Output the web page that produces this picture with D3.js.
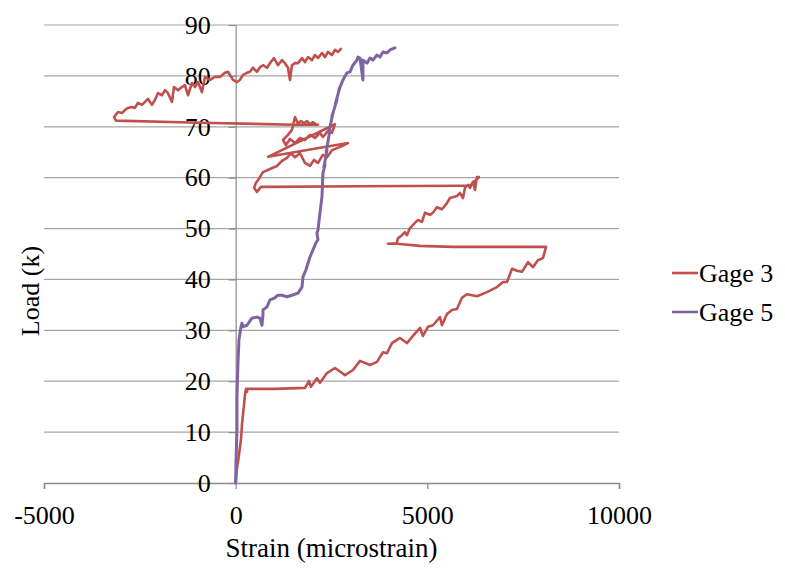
<!DOCTYPE html>
<html>
<head>
<meta charset="utf-8">
<script src="https://cdn.jsdelivr.net/npm/d3@7"></script>
<style>
  html, body { margin: 0; padding: 0; background: #ffffff; }
  svg { display: block; }
  text { font-family: "Liberation Serif", "Times New Roman", serif; fill: #000; }
</style>
</head>
<body>
<svg id="chart" width="785" height="572"></svg>
<script>
// ---------- data ----------
const seriesNames = ["Gage 3", "Gage 5"];
const xTicks = [-5000, 0, 5000, 10000];
const yTicks = [0, 10, 20, 30, 40, 50, 60, 70, 80, 90];

// Gage 3 : [strain (microstrain), load (k)]
const gage3 = [
  [0,0],[30,2.6],[86,5.5],[138,8.5],[164,11.4],[190,13.4],[217,15.3],[243,17.3],[269,18.5],[295,17.9],
  [300,18.5],[1025,18.5],[1808,18.7],[1912,20.0],[1964,18.9],[2121,20.6],[2199,19.7],[2382,21.6],
  [2590,22.6],[2851,21.2],[3060,22.2],[3243,24.0],[3503,23.2],[3686,23.8],[3843,25.7],[3947,25.5],
  [4077,27.5],[4286,28.5],[4469,27.5],[4625,28.9],[4808,30.5],[4886,28.9],[5017,30.7],[5147,31.0],
  [5330,32.6],[5382,31.0],[5512,33.2],[5643,34.0],[5773,34.2],[5904,36.4],[6034,37.1],[6295,36.7],
  [6556,37.5],[6817,38.5],[6974,39.5],[7078,39.5],[7209,42.1],[7339,41.7],[7469,41.5],[7626,43.4],
  [7757,42.4],[7887,43.8],[8017,44.2],[8096,46.4],
  [7417,46.4],[5669,46.4],[4808,46.6],[4208,47.0],[3973,47.0],[4200,47.1],
  [4234,48.1],[4338,48.7],[4416,49.3],[4469,48.7],[4547,50.1],[4678,51.1],[4756,51.7],[4860,51.3],
  [4938,53.1],[5069,52.7],[5147,53.1],[5251,54.2],[5382,53.8],[5512,55.0],[5591,56.0],[5773,56.4],
  [5851,57.0],[5930,56.0],[5982,58.0],[6060,58.6],[6112,58.0],[6190,59.2],[6243,57.6],[6295,60.1],
  [6347,60.1],[6112,58.4],[5904,58.4],
  [3243,58.3],[843,58.2],[660,58.2],[556,57.2],[480,58.0],[530,59.0],
  [582,59.5],[712,61.1],[895,61.7],[1077,62.3],[1208,63.3],[1338,63.9],[1443,64.8],
  [1547,64.0],[1677,64.8],[1808,62.9],[1938,62.3],[2043,63.5],[2147,62.9],[2277,64.5],[2382,64.0],
  [2512,65.4],[2643,65.8],[2773,66.2],[2930,66.8],
  [843,64.1],[2590,70.5],
  [2512,68.8],[2408,69.2],[2277,68.0],[2199,68.8],[2069,67.8],[1938,68.4],[1808,67.4],[1677,67.8],
  [1547,66.8],[1417,67.6],[1312,66.4],[1234,67.4],[1364,68.4],[1469,69.4],[1547,71.9],[1625,70.7],
  [1703,71.1],[1782,70.7],[1860,71.1],[1938,70.5],[2017,70.9],[2095,70.5],[2147,70.4],
  [1547,70.4],[-931,70.8],[-3122,71.2],[-3174,71.9],
  [-3070,72.9],[-2966,72.7],[-2888,73.3],[-2810,73.7],[-2705,73.9],[-2627,73.7],[-2549,74.7],
  [-2444,74.3],[-2366,74.9],[-2288,75.5],[-2184,74.3],[-2105,75.3],[-2027,76.6],[-1923,76.2],
  [-1844,77.2],[-1766,76.6],[-1662,74.9],[-1610,77.8],[-1505,77.2],[-1401,77.8],[-1323,78.2],
  [-1244,76.2],[-1140,78.6],[-1062,77.8],[-983,78.8],[-879,76.8],[-801,79.8],[-671,79.2],
  [-540,79.8],[-410,79.8],[-280,80.6],[-201,80.8],[-149,80.2],[-70,79.2],[34,78.8],[112,79.2],
  [190,80.2],[295,80.6],[373,80.8],[451,81.6],[556,80.8],[634,81.7],[712,82.1],[817,81.6],
  [895,82.5],[999,83.5],[1103,82.1],[1208,83.1],[1286,82.5],[1364,81.6],[1417,79.2],[1469,82.1],
  [1547,82.5],[1625,82.5],[1729,83.5],[1808,82.7],[1886,83.7],[1990,83.1],[2069,84.1],[2147,83.5],
  [2251,84.5],[2330,83.7],[2408,84.7],[2512,84.1],[2590,85.1],[2669,84.7],[2747,85.3]
];

// Gage 5 : [strain (microstrain), load (k)]
const gage5 = [
  [0,0],[8,3.9],[34,10.4],[34,16.9],[60,23.6],[86,28.1],[138,30.7],[164,31.4],[190,30.7],[295,31.0],
  [425,32.4],[556,32.6],[634,32.4],[686,31.0],[712,33.0],[712,34.0],[817,34.6],[895,36.0],
  [1025,36.4],[1103,36.9],[1208,36.9],[1338,36.6],[1469,36.9],[1625,37.3],[1730,38.5],[1756,40.5],
  [1834,41.9],[1886,43.2],[1938,44.4],[2017,45.8],[2095,47.2],[2147,47.8],[2121,49.1],[2147,49.7],
  [2199,53.1],[2251,56.2],[2277,60.9],[2330,62.5],[2300,62.0],[2382,65.4],[2360,65.0],[2460,69.4],
  [2430,68.8],[2538,72.7],[2510,72.0],[2643,75.3],[2600,74.5],[2721,77.8],[2690,77.2],[2799,79.2],
  [2903,80.6],[2982,80.8],[3060,82.1],[3164,83.1],[3190,83.7],[3243,83.5],[3321,79.2],[3321,83.1],
  [3425,82.5],[3503,83.5],[3582,83.1],[3686,84.1],[3764,83.7],[3843,84.7],[3947,84.5],[4025,85.1],
  [4155,85.5]
];

const seriesData = [gage3, gage5];
const seriesColors = ["#C0504D", "#8064A2"];

// ---------- chart ----------
const svg = d3.select("#chart");
const x = d3.scaleLinear().domain([-5000, 10000]).range([44, 619]);
const y = d3.scaleLinear().domain([0, 90]).range([483, 25]);

// gridlines
svg.append("g")
  .selectAll("line")
  .data(yTicks.filter(d => d !== 0))
  .join("line")
  .attr("x1", x(-5000)).attr("x2", x(10000))
  .attr("y1", d => y(d)).attr("y2", d => y(d))
  .attr("stroke", "#a6a6a6").attr("stroke-width", 1.2);

// x axis
const xAxis = svg.append("g")
  .attr("transform", `translate(0,${y(0)})`)
  .call(d3.axisBottom(x).tickValues(xTicks).tickSize(6).tickPadding(17).tickFormat(d => String(d)));
xAxis.select(".domain").attr("stroke", "#8a8a8a").attr("stroke-width", 1.5);
xAxis.selectAll(".tick line").attr("stroke", "#8a8a8a").attr("stroke-width", 1.2);
xAxis.selectAll("text").attr("font-size", 26).attr("font-family", "Liberation Serif").attr("fill", "#000");

// y axis
const yAxis = svg.append("g")
  .attr("transform", `translate(${x(0)},0)`)
  .call(d3.axisLeft(y).tickValues(yTicks).tickSize(7).tickPadding(18).tickSizeOuter(0));
yAxis.select(".domain").attr("stroke", "#8a8a8a").attr("stroke-width", 1.2);
yAxis.selectAll(".tick line").attr("stroke", "#8a8a8a").attr("stroke-width", 1.2);
yAxis.selectAll("text").attr("font-size", 26).attr("font-family", "Liberation Serif").attr("fill", "#000");

// series
const line = d3.line().x(d => x(d[0])).y(d => y(d[1]));
seriesData.forEach((data, i) => {
  svg.append("path")
    .datum(data)
    .attr("fill", "none")
    .attr("stroke", seriesColors[i])
    .attr("stroke-width", i === 1 ? 3 : 2.6)
    .attr("stroke-linejoin", "round")
    .attr("stroke-linecap", "round")
    .attr("d", line);
});

// axis titles
svg.append("text")
  .attr("x", (x(-5000) + x(10000)) / 2).attr("y", 557)
  .attr("text-anchor", "middle").attr("font-size", 27)
  .text("Strain (microstrain)");
svg.append("text")
  .attr("transform", `translate(39,291) rotate(-90)`)
  .attr("text-anchor", "middle").attr("font-size", 26)
  .text("Load (k)");

// legend
const legend = svg.append("g");
seriesNames.forEach((name, i) => {
  const ly = 273 + i * 39;
  legend.append("line")
    .attr("x1", 672).attr("x2", 698).attr("y1", ly).attr("y2", ly)
    .attr("stroke", seriesColors[i]).attr("stroke-width", 2.6);
  legend.append("text")
    .attr("x", 699).attr("y", ly + 9)
    .attr("font-size", 26)
    .text(name);
});
</script>
</body>
</html>
